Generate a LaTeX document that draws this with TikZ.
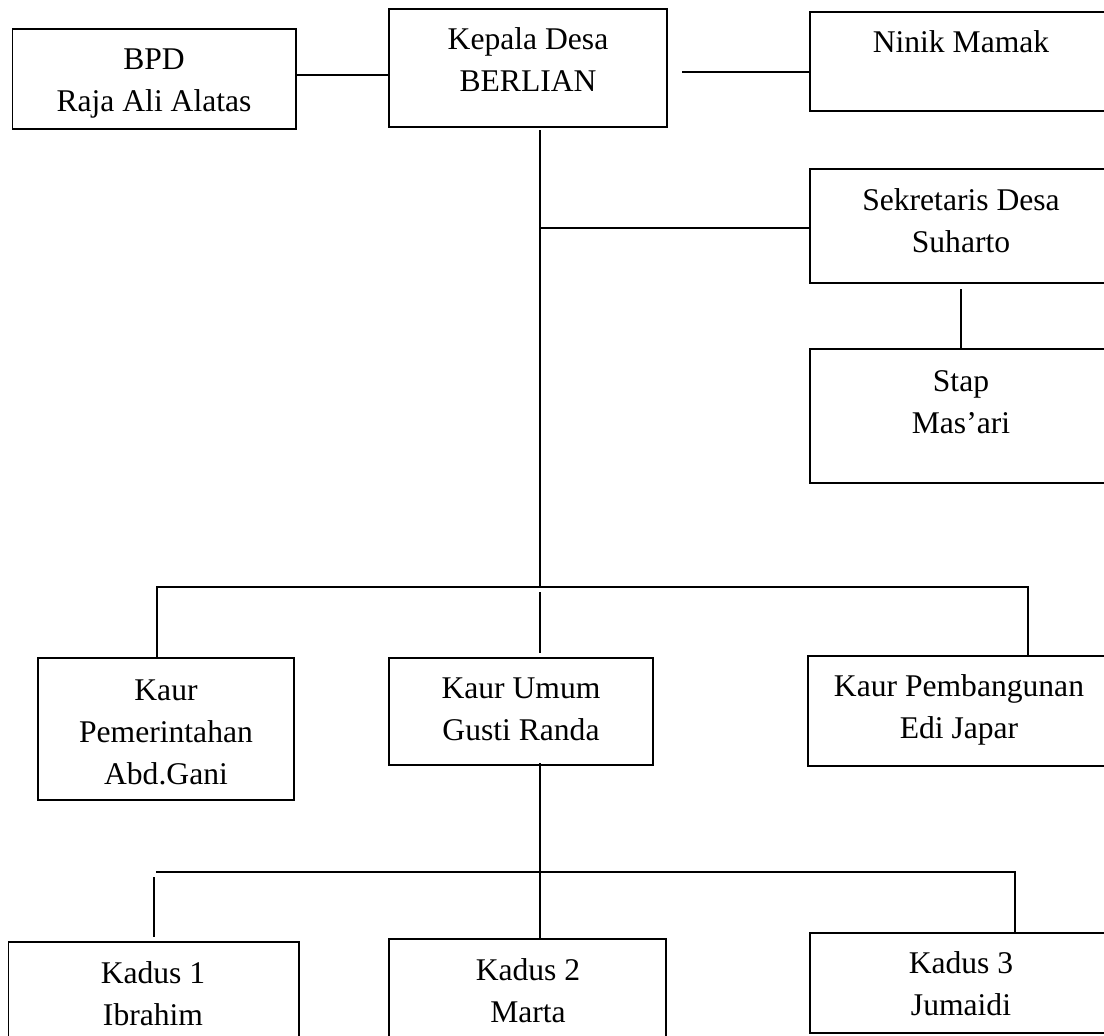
\documentclass[tikz,border=0pt]{standalone}
\usepackage{fontspec}
\setmainfont{Liberation Serif}
\begin{document}
\begin{tikzpicture}[x=1pt,y=-1pt,
  box/.style={draw, line width=1.4pt, inner sep=0pt, rectangle},
  txt/.style={align=center, font=\fontsize{31.6}{42}\selectfont, inner sep=0pt},
  conn/.style={line width=1.2pt}]
\useasboundingbox (0,0) rectangle (1104,1036);
\fill[white] (0,0) rectangle (1104,1036);

% boxes
\node[box, minimum width=283.5, minimum height=100] (bpd) at (154.25,79) {};
\node[box, minimum width=278, minimum height=118] (kd) at (528,68) {};
\node[box, minimum width=302, minimum height=99] (nm) at (961,61.5) {};
\node[box, minimum width=302, minimum height=114] (sd) at (961,226) {};
\node[box, minimum width=302, minimum height=134] (st) at (961,416) {};
\node[box, minimum width=256, minimum height=142] (kp) at (166,729) {};
\node[box, minimum width=264, minimum height=107] (ku) at (521,711.5) {};
\node[box, minimum width=304, minimum height=110] (kb) at (960,711) {};
\node[box, minimum width=290.5, minimum height=103] (k1) at (153.75,993.5) {};
\node[box, minimum width=277, minimum height=106] (k2) at (527.5,992) {};
\node[box, minimum width=302, minimum height=100] (k3) at (961,983) {};

% texts
\node[txt] (tbpd) at (154,84) {BPD\\Raja Ali Alatas};
\node[txt] (tkd) at (528,60) {Kepala Desa\\BERLIAN};
\node[txt] (tnm) at (961,42) {Ninik Mamak};
\node[txt] (tsd) at (961,221) {Sekretaris Desa\\Suharto};
\node[txt] (tst) at (961,402) {Stap\\Mas’ari};
\node[txt] (tkp) at (166,732) {Kaur\\Pemerintahan\\Abd.Gani};
\node[txt] (tku) at (521,709) {Kaur Umum\\Gusti Randa};
\node[txt] (tkb) at (959,710) {Kaur Pembangunan\\Edi Japar};
\node[txt] (tk1) at (153,994) {Kadus 1\\Ibrahim};
\node[txt] (tk2) at (528,991) {Kadus 2\\Marta};
\node[txt] (tk3) at (961,984) {Kadus 3\\Jumaidi};

% connectors
\draw[conn] ([yshift=4pt]bpd.east) -- ([yshift=4pt]bpd.east -| kd.west);
\coordinate (nmL) at (682,72);
\draw[conn] (nmL) -- (nmL -| nm.west);
\coordinate (kdB) at (540,130);
\coordinate (busM) at (540,587);
\draw[conn] (kdB) -- (busM);
\coordinate (sdJ) at (540,228);
\draw[conn] (sdJ) -- (sdJ -| sd.west);
\coordinate (sdB) at (961,289);
\draw[conn] (sdB) -- (st.north);
\coordinate (busL) at (157,587);
\coordinate (busR) at (1028,587);
\draw[conn] (busL |- kp.north) -- (busL) -- (busR) -- (busR |- kb.north);
\coordinate (m1) at (540,592);
\coordinate (m2) at (540,653);
\draw[conn] (m1) -- (m2);
\coordinate (kuB) at (540,763);
\draw[conn] (kuB) -- (kuB |- k2.north);
\coordinate (b2L) at (156,872);
\coordinate (b2R) at (1015,872);
\draw[conn] (b2L) -- (b2R) -- (b2R |- k3.north);
\coordinate (s1) at (154,877);
\coordinate (s2) at (154,937);
\draw[conn] (s1) -- (s2);
\end{tikzpicture}
\end{document}
